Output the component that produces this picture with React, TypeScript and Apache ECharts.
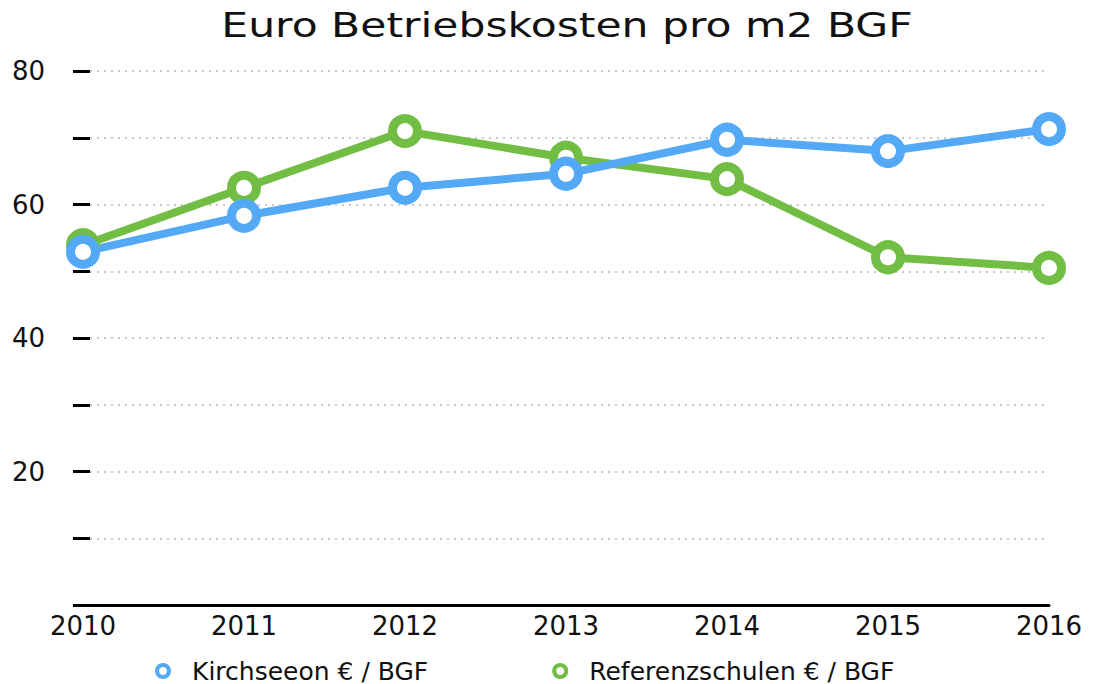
import React, { useEffect, useRef } from "react";
import * as echarts from "echarts";

const years = ["2010", "2011", "2012", "2013", "2014", "2015", "2016"];
const kirchseeon = [52.9, 58.3, 62.5, 64.6, 69.7, 68.0, 71.3];
const referenz = [53.9, 62.5, 71.0, 67.0, 63.8, 52.1, 50.5];
const seriesNames = ["Kirchseeon € / BGF", "Referenzschulen € / BGF"];
const titleText = "Euro Betriebskosten pro m2 BGF";

const FONT = "'DejaVu Sans', 'Noto Sans', sans-serif";
const BLUE = "#53a9f6";
const GREEN = "#72be44";

export default function App() {
  const ref = useRef<HTMLDivElement>(null);
  useEffect(() => {
    const chart = echarts.init(ref.current!, null, { renderer: "svg" });
    const mk = (name: string, data: number[], color: string) => ({
      name,
      type: "line",
      data,
      symbol: "circle",
      symbolSize: 25,
      lineStyle: { color, width: 8 },
      itemStyle: { color: "#ffffff", borderColor: color, borderWidth: 9 },
      emphasis: { disabled: true },
    });
    chart.setOption({
      animation: false,
      backgroundColor: "#ffffff",
      graphic: [
        {
          type: "text",
          x: 567,
          y: 25,
          scaleX: 1.25,
          style: {
            text: titleText,
            fontFamily: FONT,
            fontSize: 34,
            fontWeight: "normal",
            fill: "#111",
            align: "center",
            verticalAlign: "middle",
          },
        },
      ],
      legend: {
        top: 652,
        left: 150,
        itemGap: 124,
        itemWidth: 12,
        itemHeight: 12,
        icon: "circle",
        textStyle: {
          fontFamily: FONT,
          fontSize: 25,
          lineHeight: 28,
          color: "#111",
          padding: [0, 0, 0, 18],
        },
        data: [
          { name: seriesNames[0], itemStyle: { color: "#fff", borderColor: BLUE, borderWidth: 4 } },
          { name: seriesNames[1], itemStyle: { color: "#fff", borderColor: GREEN, borderWidth: 4 } },
        ],
      },
      grid: { left: 83, right: 46, top: 71, bottom: 79 },
      xAxis: {
        type: "category",
        data: years,
        boundaryGap: false,
        axisLine: { lineStyle: { color: "#000", width: 3 } },
        axisTick: { show: false },
        axisLabel: { fontFamily: FONT, fontSize: 26, color: "#111", margin: 8 },
      },
      yAxis: [
        {
          type: "value",
          min: 0,
          max: 80,
          interval: 10,
          axisLine: { show: false },
          axisTick: { show: true, length: 10, lineStyle: { color: "#000", width: 3 } },
          axisLabel: {
            fontFamily: FONT,
            fontSize: 26,
            color: "#111",
            margin: 38,
            formatter: (v: number) => (v > 0 && v % 20 === 0 ? String(v) : ""),
          },
          splitLine: { lineStyle: { color: "#c8c8c8", type: [2, 5], width: 2 } },
        },
        {
          type: "value",
          min: 0,
          max: 80,
          interval: 10,
          position: "left",
          axisLine: { show: false },
          axisTick: { show: true, inside: true, length: 7, lineStyle: { color: "#000", width: 3 } },
          axisLabel: { show: false },
          splitLine: { show: false },
        },
      ],
      series: [mk(seriesNames[1], referenz, GREEN), mk(seriesNames[0], kirchseeon, BLUE)],
    });
    return () => chart.dispose();
  }, []);
  return (
    <div
      ref={ref}
      style={{ position: "fixed", left: 0, top: 0, width: 1095, height: 684 }}
    />
  );
}
